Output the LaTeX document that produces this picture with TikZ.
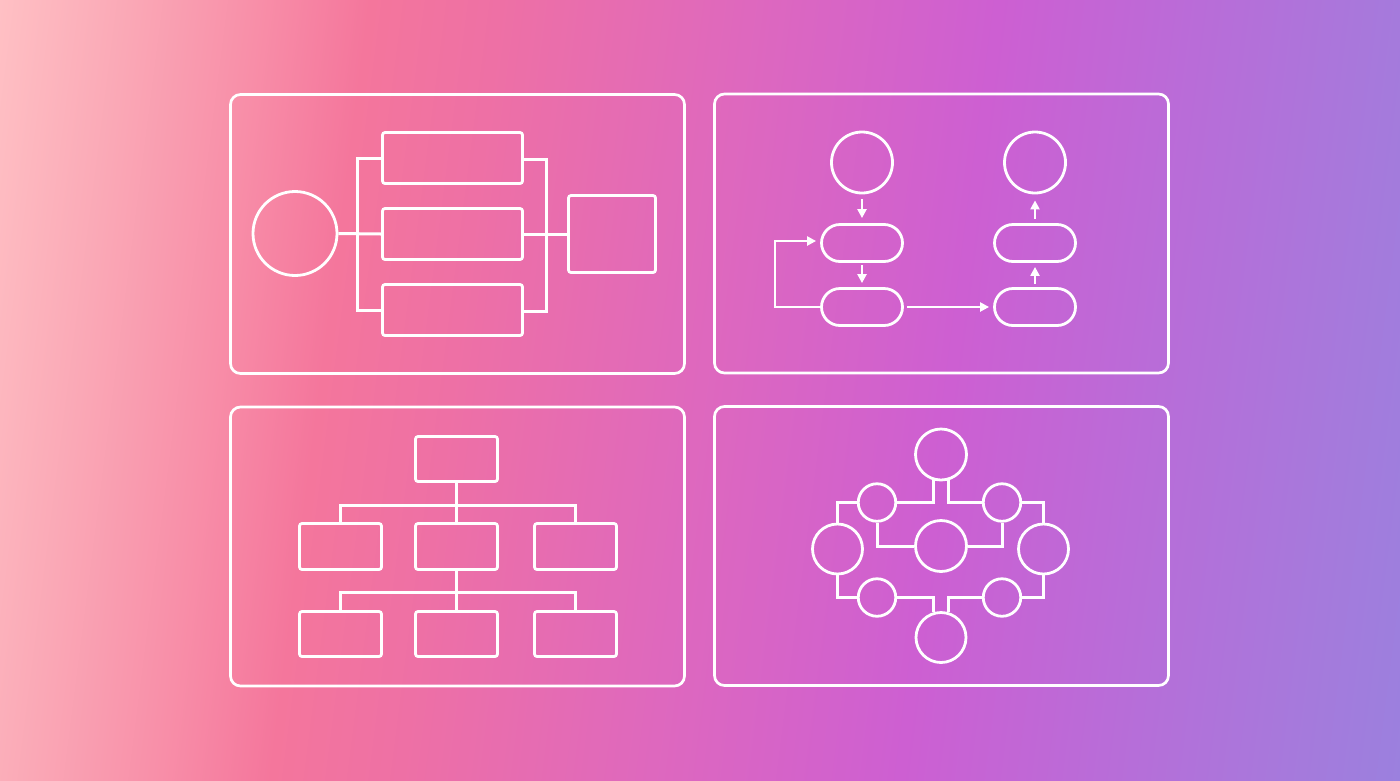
\documentclass[tikz,border=0pt]{standalone}
\usetikzlibrary{shapes.misc,arrows.meta}
\definecolor{bg0}{RGB}{255,200,202}
\definecolor{bg1}{RGB}{255,192,196}
\definecolor{bg2}{RGB}{250,168,182}
\definecolor{bg3}{RGB}{248,142,168}
\definecolor{bg4}{RGB}{244,118,156}
\definecolor{bg5}{RGB}{238,112,165}
\definecolor{bg6}{RGB}{222,104,190}
\definecolor{bg7}{RGB}{205,95,210}
\definecolor{bg8}{RGB}{185,108,216}
\definecolor{bg9}{RGB}{165,122,220}
\definecolor{bg10}{RGB}{155,128,222}
\pgfdeclarehorizontalshading{bgshade}{100bp}{color(0bp)=(bg0); color(25bp)=(bg0); color(28.125bp)=(bg1); color(32.19bp)=(bg2); color(36.25bp)=(bg3); color(39.69bp)=(bg4); color(43.75bp)=(bg5); color(51.56bp)=(bg6); color(59.375bp)=(bg7); color(65.625bp)=(bg8); color(71.875bp)=(bg9); color(75bp)=(bg10); color(100bp)=(bg10)}
\tikzset{
  panel/.style={draw=white, line width=2.7pt, rounded corners=10pt, minimum width=454pt, minimum height=279pt, inner sep=0pt},
  box/.style={draw=white, line width=2.8pt, rectangle, rounded corners=2.5pt, inner sep=0pt},
  circ/.style={draw=white, line width=2.8pt, circle, inner sep=0pt},
  pill/.style={draw=white, line width=2.8pt, rounded rectangle, minimum width=81pt, minimum height=37pt, inner sep=0pt},
  wire/.style={draw=white, line width=3pt},
  arr/.style={draw=white, line width=2.2pt, -{Triangle[length=9pt,width=9pt]}}
}
\begin{document}
\begin{tikzpicture}[x=1pt,y=-1pt]
\useasboundingbox (0,0) rectangle (1400,780);
\begin{scope}[transform canvas={xslant=0.128}]
\shade[shading=bgshade] (-100,-20) rectangle (1500,800);
\end{scope}

% panels
\node[panel] (p1) at (457.5,234) {};
\node[panel] (p2) at (941.5,233.5) {};
\node[panel] (p3) at (457.5,546.5) {};
\node[panel] (p4) at (941.5,546) {};

% panel 1
\node[circ, minimum size=84pt] (c1) at (295,233.5) {};
\node[box, minimum width=140pt, minimum height=51pt] (r1) at (452.5,158) {};
\node[box, minimum width=140pt, minimum height=51pt] (r2) at (452.5,234) {};
\node[box, minimum width=140pt, minimum height=51pt] (r3) at (452.5,310) {};
\node[box, minimum width=87pt, minimum height=77pt] (r4) at (612,234) {};
\coordinate (lbt) at (357,158);
\coordinate (lbb) at (357,310);
\coordinate (rbt) at (546,159);
\coordinate (rbb) at (546,311);
\draw[wire] (c1.east) -- (r2.west);
\draw[wire] (r2.east) -- (r4.west);
\draw[wire] (r1.west) -- (lbt) -- (lbb) -- (r3.west);
\draw[wire] (r1.east |- rbt) -- (rbt) -- (rbb) -- (r3.east |- rbb);

% panel 2
\node[circ, minimum size=61pt] (s1) at (862,162.5) {};
\node[circ, minimum size=61pt] (s2) at (1035,162.5) {};
\node[pill] (q1) at (862,243) {};
\node[pill] (q2) at (862,307) {};
\node[pill] (q3) at (1035,243) {};
\node[pill] (q4) at (1035,307) {};
\draw[arr, shorten <=5pt, shorten >=5pt] (s1.south) -- (q1.north);
\draw[arr, shorten <=2pt, shorten >=4pt] (q1.south) -- (q2.north);
\draw[arr, shorten <=3pt, shorten >=4pt] (q4.north) -- (q3.south);
\draw[arr, shorten <=4pt, shorten >=6pt] (q3.north) -- (s2.south);
\draw[arr, shorten <=3pt, shorten >=4pt] (q2.east) -- (q4.west);
\draw[arr, shorten >=4pt] (q2.west) -- ++(-45,0) |- ([yshift=2pt]q1.west);

% panel 3
\node[box, minimum width=82pt, minimum height=45pt] (t0) at (456.5,459) {};
\node[box, minimum width=82pt, minimum height=46pt] (m1) at (340.5,546.5) {};
\node[box, minimum width=82pt, minimum height=46pt] (m2) at (456.5,546.5) {};
\node[box, minimum width=82pt, minimum height=46pt] (m3) at (575.5,546.5) {};
\node[box, minimum width=82pt, minimum height=45pt] (b1) at (340.5,634) {};
\node[box, minimum width=82pt, minimum height=45pt] (b2) at (456.5,634) {};
\node[box, minimum width=82pt, minimum height=45pt] (b3) at (575.5,634) {};
\coordinate (j1) at (456.5,505);
\coordinate (j2) at (456.5,592);
\draw[wire] (t0.south) -- (m2.north);
\draw[wire] (m1.north) |- (j1) -| (m3.north);
\draw[wire] (m2.south) -- (b2.north);
\draw[wire] (b1.north) |- (j2) -| (b3.north);

% panel 4
\node[circ, minimum size=51pt] (A) at (941,454.5) {};
\node[circ, minimum size=51pt] (C) at (941,546) {};
\node[circ, minimum size=50pt] (B) at (941,637.5) {};
\node[circ, minimum size=50pt] (L) at (837.5,549) {};
\node[circ, minimum size=50pt] (R) at (1043.5,549) {};
\node[circ, minimum size=37.5pt] (TL) at (877,502.5) {};
\node[circ, minimum size=37.5pt] (TR) at (1002,502.5) {};
\node[circ, minimum size=37.5pt] (BL) at (877,597.5) {};
\node[circ, minimum size=37.5pt] (BR) at (1002,597.5) {};
\draw[wire] (A.253) |- (TL.east);
\draw[wire] (A.287) |- (TR.west);
\draw[wire] (TL.west) -| (L.north);
\draw[wire] (TL.south) |- (C.west);
\draw[wire] (TR.south) |- (C.east);
\draw[wire] (TR.east) -| (R.north);
\draw[wire] (L.south) |- (BL.west);
\draw[wire] (BL.east) -| (B.107);
\draw[wire] (BR.west) -| (B.73);
\draw[wire] (BR.east) -| (R.south);
\end{tikzpicture}
\end{document}
